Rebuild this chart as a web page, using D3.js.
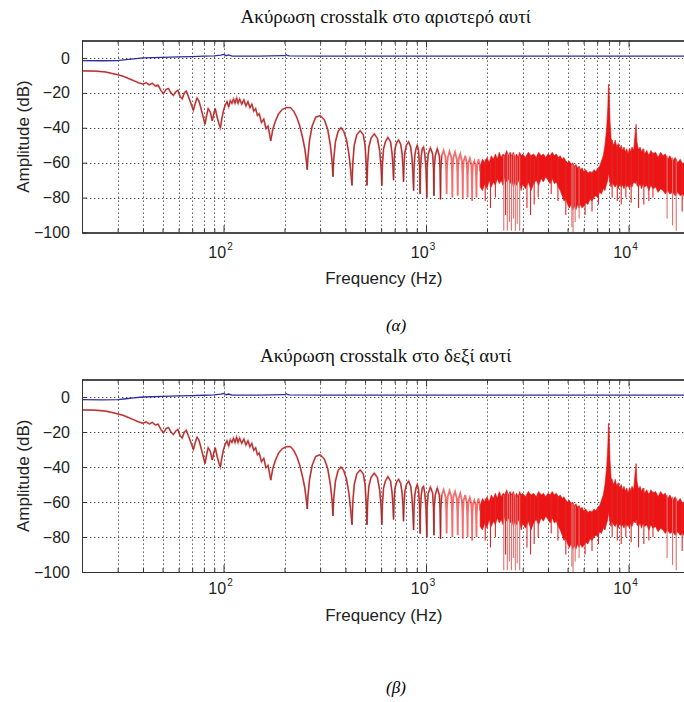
<!DOCTYPE html>
<html><head><meta charset="utf-8">
<script src="https://cdn.jsdelivr.net/npm/d3@7"></script>
<style>body{margin:0;background:#fff} svg{display:block}</style>
</head><body><svg id="c" width="684" height="702"></svg>
<script>
// ---------- data ----------
const titles = ["Ακύρωση crosstalk στο αριστερό αυτί", "Ακύρωση crosstalk στο δεξί αυτί"];
const captions = ["(α)", "(β)"];
const xLabel = "Frequency (Hz)";
const yLabel = "Amplitude (dB)";
const yTicks = [0, -20, -40, -60, -80, -100];
const xMajorTicks = [100, 1000, 10000];
const xTickBase = "10";
const xTickExp = ["2", "3", "4"];
const xMinorTicks = [20,30,40,50,60,70,80,90,200,300,400,500,600,700,800,900,2000,3000,4000,5000,6000,7000,8000,9000];

// blue curve (crosstalk-cancelled direct path)
const blueFreq = [20,25,30,33,36,40,50,60,70,80,90,97,100,103,106,110,115,150,200,204,208,212,300,1000,5000,20000];
const blueDb   = [-1.5,-1.6,-1.5,-1.0,-0.5,0,0.3,0.6,0.8,1.0,1.2,1.6,2.0,1.3,1.7,1.1,1.1,1.1,1.3,1.9,1.3,1.2,1.1,1.1,1.1,1.1];

// red curve (residual crosstalk) up to ~1.85 kHz
const redFreq = [20,23,26,28,30,32,34,36,38,40,41.5,43,44.5,46,47.5,49,50.5,52,53.5,55,56.5,58,59.5,61,62.5,64,65.5,67,69,71,72.5,74,75.5,77,79,81,82.5,84,86,88,89.5,91,93,95,96.5,98,100,102,104,106,108,110,112,114,116,118,120,123,126,129,132,135,138,141,144,147,150,154,158,162,166,171,175,180,187,195,205,214,222,230,238,246,252,257,259,261,266,274,285,300,315,327,337,344,347,350,357,368,380,392,405,416,424,431,435,442,455,473,490,500,507,511,515,522,535,555,575,590,600,605,609,617,630,648,668,680,687,691,695,703,716,732,750,762,770,774,778,786,800,820,840,853,862,868,872,880,892,905,918,928,935,939,947,958,972,986,1000,1009,1013,1025,1051,1078,1088,1094,1098,1110,1136,1163,1173,1179,1183,1195,1221,1248,1258,1264,1268,1280,1306,1333,1343,1349,1353,1365,1391,1418,1428,1434,1438,1450,1476,1503,1513,1519,1523,1535,1561,1588,1598,1604,1608,1620,1646,1673,1683,1689,1693,1705,1731,1758,1768,1774,1778,1790,1816,1843,1850];
const redDb   = [-7.4,-7.5,-8,-8.8,-9.6,-10.5,-11.8,-13,-14.2,-15,-14.2,-15.4,-14.5,-16,-15.5,-18.5,-20.5,-18,-17.5,-20,-21.5,-19.5,-18.5,-22,-23.5,-20,-19,-22,-26,-30,-26,-23,-24.5,-28,-33,-38,-33,-29,-31,-36,-32,-29,-34,-38,-40,-35,-30,-27,-25,-28,-24.5,-26,-23.5,-26,-23,-26,-23.5,-26.5,-24,-27.5,-25,-28.5,-26.5,-30.5,-29,-33,-32,-37,-35,-40.5,-39,-47.5,-41,-36.5,-32,-29.5,-28.4,-28.4,-30.5,-34,-39,-46,-52,-60,-64,-57,-47,-39,-34,-33,-35.5,-41,-50,-60,-68,-58,-48,-42,-40,-42,-47,-55,-64,-73,-60,-50,-44,-41.7,-44,-50,-62,-73,-60,-51,-46,-43.5,-46,-53,-63,-73,-61,-52,-48,-45.5,-48,-55,-63,-70,-60,-52,-48.5,-47,-49.5,-55,-63,-71,-62,-54,-50,-48,-51,-58,-67,-76,-64,-56,-52,-50,-53,-61,-78,-64,-56,-52,-51,-55,-64,-80,-63,-55,-51.5,-55,-63,-79,-63,-56,-52,-56,-64,-81,-64,-56,-53,-57,-65,-78,-64,-57,-53.5,-57,-65,-80,-65,-57,-54,-58,-66,-79,-65,-58,-55,-59,-67,-81,-66,-59,-56,-60,-68,-80,-67,-60,-57.5,-61,-69,-82,-68,-61,-59,-62,-70,-80,-68,-61,-58,-62,-65];

// dense comb region (> 1.85 kHz): upper / lower envelope of the red trace
const bandFreq = [1850,1900,1950,2000,2050,2100,2150,2200,2250,2300,2350,2400,2450,2500,2550,2600,2650,2700,2750,2800,2850,2900,2950,3000,3100,3200,3300,3400,3500,3600,3700,3800,3900,4000,4100,4200,4300,4400,4500,4600,4700,4800,4900,5000,5100,5200,5300,5400,5500,5600,5700,5800,5900,6000,6150,6300,6450,6600,6750,6900,7050,7200,7350,7500,7650,7800,7900,7960,8020,8100,8200,8300,8450,8600,8750,8900,9050,9200,9350,9500,9650,9800,9950,10100,10250,10400,10600,10800,10900,11000,11200,11400,11600,11800,12000,12300,12600,12900,13200,13600,14000,14400,14800,15200,15600,16000,16500,17000,17500,18000,18500,19000,19500,20000];
const bandHigh = [-62,-58,-60,-57,-60,-56,-58,-55,-58,-54,-57,-55,-56,-53,-56,-54,-56,-54,-57,-55,-57,-54,-56,-55,-57,-54,-56,-55,-57,-54,-56,-55,-57,-55,-56,-54,-56,-55,-57,-56,-58,-57,-59,-60,-59,-61,-60,-62,-61,-63,-62,-64,-63,-65,-64,-66,-65,-66,-64,-65,-63,-62,-59,-56,-50,-40,-28,-15,-18,-36,-46,-48,-50,-47,-51,-49,-52,-50,-53,-51,-54,-52,-55,-52,-54,-51,-53,-42,-38,-48,-53,-51,-54,-52,-55,-53,-56,-53,-55,-54,-57,-54,-56,-55,-58,-56,-59,-57,-60,-58,-61,-59,-62,-60];
const bandLow  = [-74,-76,-72,-75,-70,-74,-71,-73,-69,-72,-70,-73,-68,-71,-69,-72,-70,-74,-71,-73,-70,-72,-76,-72,-75,-71,-76,-72,-70,-73,-69,-71,-68,-70,-72,-69,-72,-71,-74,-76,-79,-82,-81,-84,-86,-84,-87,-85,-87,-84,-86,-84,-86,-85,-83,-84,-81,-82,-80,-79,-80,-77,-78,-75,-76,-72,-70,-66,-68,-72,-74,-71,-73,-74,-72,-75,-72,-74,-73,-75,-72,-74,-73,-75,-72,-74,-71,-72,-70,-73,-74,-72,-75,-72,-74,-73,-76,-73,-75,-74,-77,-75,-76,-78,-76,-78,-77,-79,-77,-79,-78,-80,-78,-79];

// deep notches reaching below the band
const spikeFreq = [1960,2080,2200,2420,2470,2520,2580,2640,2700,2760,2820,2900,3150,3280,3420,3580,4150,4480,4900,5250,5320,5450,5700,6100,6600,7100,8300,8800,9200,9700,10300,11200,11900,12600,13200,15500,16500,17200,18400,19300];
const spikeTop  = [-58,-60,-57,-56,-55,-55,-55,-56,-55,-56,-57,-56,-56,-56,-57,-55,-56,-57,-59,-61,-61,-62,-63,-65,-65,-63,-47,-50,-51,-54,-52,-52,-52,-55,-54,-56,-57,-58,-60,-59];
const spikeLow  = [-82,-86,-80,-99,-90,-99,-94,-99,-92,-99,-95,-99,-86,-90,-84,-80,-78,-82,-90,-97,-100,-94,-92,-90,-88,-84,-80,-82,-84,-80,-83,-86,-84,-82,-80,-92,-96,-99,-88,-96];

// ---------- drawing ----------
const svg = d3.select("#c");
const FONT = "'Liberation Sans', Arial, sans-serif";
const SERIF = "'Liberation Serif', 'Times New Roman', serif";

const panels = [
  {top: 40.5, bottom: 232.5, titleY: 23, tickY: 258, labelY: 284, capY: 331},
  {top: 379.5, bottom: 572, titleY: 362, tickY: 594, labelY: 621, capY: 693}
];
const LEFT = 82, RIGHT = 689.5;

panels.forEach((p, i) => {
  const x = d3.scaleLog().domain([20, 20000]).range([LEFT, RIGHT]);
  const y = d3.scaleLinear().domain([-100, 10]).range([p.bottom, p.top]);
  const g = svg.append("g");
  const clipId = "clip" + i;
  g.append("clipPath").attr("id", clipId).append("rect")
    .attr("x", LEFT).attr("y", p.top).attr("width", RIGHT - LEFT).attr("height", p.bottom - p.top);

  // grid
  const grid = g.append("g").attr("stroke", "#444").attr("stroke-width", 1).attr("stroke-dasharray", "1.3,2.7");
  grid.selectAll("line.vx").data(xMinorTicks.concat(xMajorTicks)).join("line")
    .attr("x1", d => Math.round(x(d)) + 0.5).attr("x2", d => Math.round(x(d)) + 0.5)
    .attr("y1", p.top).attr("y2", p.bottom);
  grid.selectAll("line.hy").data(yTicks.filter(d => d > -100)).join("line")
    .attr("x1", LEFT).attr("x2", RIGHT)
    .attr("y1", d => Math.round(y(d)) + 0.5).attr("y2", d => Math.round(y(d)) + 0.5);

  const plot = g.append("g").attr("clip-path", `url(#${clipId})`);

  // dense band
  const bandData = bandFreq.map((f, k) => ({f, hi: bandHigh[k], lo: bandLow[k]}));
  plot.append("path").datum(bandData)
    .attr("d", d3.area().x(d => x(d.f)).y0(d => y(d.lo)).y1(d => y(d.hi)))
    .attr("fill", "#ec1414").attr("stroke", "#e41010").attr("stroke-width", 0.6);

  // notches
  plot.selectAll("line.sp").data(spikeFreq.map((f, k) => ({f, t: spikeTop[k], b: spikeLow[k]}))).join("line")
    .attr("x1", d => x(d.f)).attr("x2", d => x(d.f))
    .attr("y1", d => y(d.t)).attr("y2", d => y(d.b))
    .attr("stroke", (d) => d.b < -90 ? "#e27070" : "#e02828").attr("stroke-width", 1.1);

  // red curve
  const redData = redFreq.map((f, k) => ({f, v: redDb[k]}));
  const line = d3.line().x(d => x(d.f)).y(d => y(d.v));
  plot.append("path").datum(redData).attr("d", line)
    .attr("fill", "none").attr("stroke", "#f03030").attr("stroke-width", 1.8).attr("stroke-opacity", 0.7);
  plot.append("path").datum(redData.filter(d => d.f < 1200)).attr("d", line)
    .attr("fill", "none").attr("stroke", "#8e2b2b").attr("stroke-width", 0.9);

  // blue curve
  const blueData = blueFreq.map((f, k) => ({f, v: blueDb[k]}));
  plot.append("path").datum(blueData).attr("d", line)
    .attr("fill", "none").attr("stroke", "#2c2c9a").attr("stroke-width", 1.3);

  // axes
  const axisColor = "#333";
  const yAx = g.append("g").attr("transform", `translate(${LEFT},0)`)
    .call(d3.axisLeft(y).tickValues(yTicks).tickSizeInner(-5).tickSizeOuter(0).tickPadding(12).tickFormat(d3.format("d")));
  yAx.select(".domain").attr("stroke", axisColor).attr("d", `M0.5,${p.top}V${p.bottom}`);
  yAx.selectAll(".tick line").attr("stroke", axisColor);
  yAx.selectAll(".tick text").attr("font-family", FONT).attr("font-size", 16).attr("fill", "#222");

  const xMinorAx = g.append("g").attr("transform", `translate(0,${p.bottom})`)
    .call(d3.axisBottom(x).tickValues(xMinorTicks).tickSizeInner(-4).tickSizeOuter(0).tickFormat(""));
  const xMajorAx = g.append("g").attr("transform", `translate(0,${p.bottom})`)
    .call(d3.axisBottom(x).tickValues(xMajorTicks).tickSizeInner(-7).tickSizeOuter(0).tickFormat(""));
  const xTopMinor = g.append("g").attr("transform", `translate(0,${p.top})`)
    .call(d3.axisTop(x).tickValues(xMinorTicks).tickSizeInner(-4).tickSizeOuter(0).tickFormat(""));
  const xTopMajor = g.append("g").attr("transform", `translate(0,${p.top})`)
    .call(d3.axisTop(x).tickValues(xMajorTicks).tickSizeInner(-7).tickSizeOuter(0).tickFormat(""));
  [xMinorAx, xMajorAx, xTopMinor, xTopMajor].forEach(a => {
    a.select(".domain").attr("stroke", axisColor);
    a.selectAll(".tick line").attr("stroke", axisColor);
  });
  g.append("line").attr("x1", LEFT).attr("x2", RIGHT).attr("y1", p.top + 0.5).attr("y2", p.top + 0.5).attr("stroke", axisColor);
  g.append("line").attr("x1", LEFT).attr("x2", RIGHT).attr("y1", p.bottom + 0.5).attr("y2", p.bottom + 0.5).attr("stroke", axisColor);

  // x tick labels 10^n
  const lab = g.selectAll("text.xt").data(xMajorTicks).join("text")
    .attr("x", d => x(d) - 3).attr("y", p.tickY)
    .attr("text-anchor", "middle").attr("font-family", FONT).attr("font-size", 16).attr("fill", "#222");
  lab.append("tspan").text(xTickBase);
  lab.append("tspan").text((d, k) => xTickExp[k]).attr("font-size", 10).attr("dy", -8).attr("dx", 1);

  // axis labels
  g.append("text").attr("x", (LEFT + RIGHT) / 2 - 2).attr("y", p.labelY).attr("text-anchor", "middle")
    .attr("font-family", FONT).attr("font-size", 17).attr("fill", "#222").text(xLabel);
  g.append("text").attr("transform", `translate(29,${(p.top + p.bottom) / 2}) rotate(-90)`)
    .attr("text-anchor", "middle").attr("font-family", FONT).attr("font-size", 17).attr("fill", "#222").text(yLabel);

  // title
  g.append("text").attr("x", (LEFT + RIGHT) / 2).attr("y", p.titleY).attr("text-anchor", "middle")
    .attr("font-family", SERIF).attr("font-size", 19).attr("fill", "#111").text(titles[i]);

  // caption
  svg.append("text").attr("x", 396).attr("y", p.capY).attr("text-anchor", "middle")
    .attr("font-family", SERIF).attr("font-style", "italic").attr("font-size", 17).attr("fill", "#000").text(captions[i]);
});
</script>
</body></html>
